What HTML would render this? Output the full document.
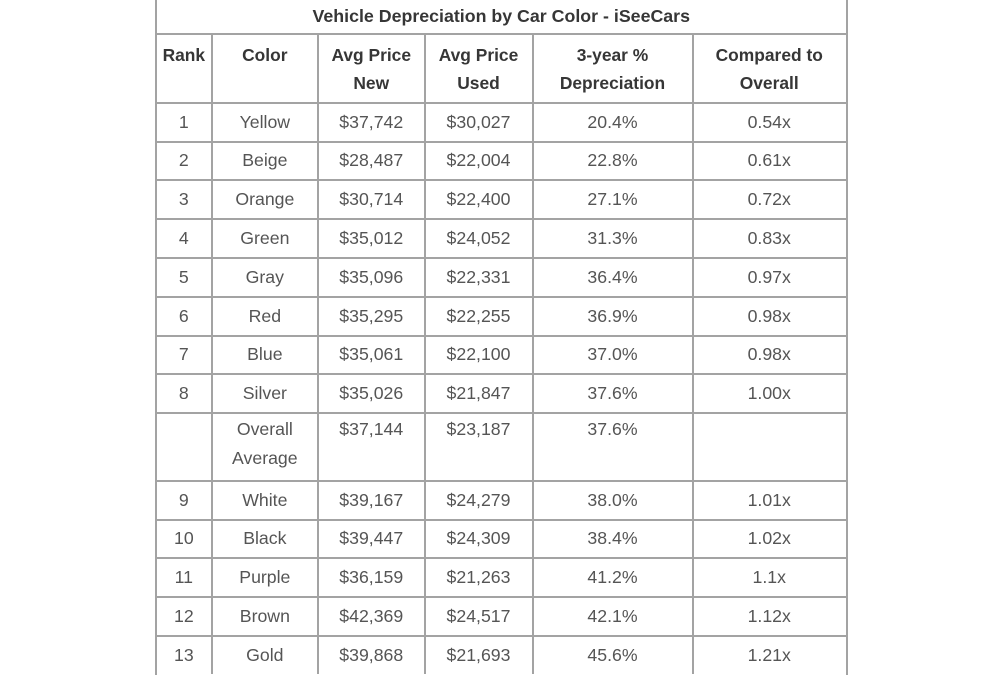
<!DOCTYPE html>
<html>
<head>
<meta charset="utf-8">
<style>
html,body{margin:0;padding:0;background:#fff;}
body{width:1000px;height:667px;position:relative;overflow:hidden;font-family:"Liberation Sans",sans-serif;}
.v{position:absolute;width:2px;background:#a3a3a3;}
.h{position:absolute;height:2px;background:#a3a3a3;left:155px;width:692.5px;}
.r{position:absolute;left:156px;display:flex;height:29px;line-height:29px;font-size:17.7px;color:#555;}
.r div{text-align:center;white-space:nowrap;}
.w1{width:55.7px}.w2{width:106.3px}.w3{width:106.5px}.w4{width:108px}.w5{width:160px}.w6{width:153.5px}
.hd{font-weight:bold;color:#363636;font-size:17.4px;line-height:28.5px;height:57px;}
.title{position:absolute;left:156px;width:690.5px;top:2px;line-height:28px;text-align:center;font-weight:bold;font-size:17.8px;color:#363636;}
</style>
</head>
<body>
<!-- vertical lines -->
<div class="v" style="left:155px;top:-5px;height:680px"></div>
<div class="v" style="left:210.7px;top:34px;height:640px"></div>
<div class="v" style="left:317px;top:34px;height:640px"></div>
<div class="v" style="left:424px;top:34px;height:640px"></div>
<div class="v" style="left:532px;top:34px;height:640px"></div>
<div class="v" style="left:692px;top:34px;height:640px"></div>
<div class="v" style="left:845.5px;top:-5px;height:680px"></div>
<!-- horizontal lines -->
<div class="h" style="top:33px"></div>
<div class="h" style="top:101.7px"></div>
<div class="h" style="top:140.5px"></div>
<div class="h" style="top:179.3px"></div>
<div class="h" style="top:218.1px"></div>
<div class="h" style="top:256.9px"></div>
<div class="h" style="top:295.7px"></div>
<div class="h" style="top:334.5px"></div>
<div class="h" style="top:373.3px"></div>
<div class="h" style="top:412.3px"></div>
<div class="h" style="top:479.7px"></div>
<div class="h" style="top:518.5px"></div>
<div class="h" style="top:557.3px"></div>
<div class="h" style="top:596.1px"></div>
<div class="h" style="top:635px"></div>

<div class="title">Vehicle Depreciation by Car Color - iSeeCars</div>

<div class="r hd" style="top:40.5px">
<div class="w1">Rank</div><div class="w2">Color</div><div class="w3">Avg Price<br>New</div><div class="w4">Avg Price<br>Used</div><div class="w5">3-year %<br>Depreciation</div><div class="w6">Compared to<br>Overall</div>
</div>

<div class="r" style="top:107.6px"><div class="w1">1</div><div class="w2">Yellow</div><div class="w3">$37,742</div><div class="w4">$30,027</div><div class="w5">20.4%</div><div class="w6">0.54x</div></div>
<div class="r" style="top:146.4px"><div class="w1">2</div><div class="w2">Beige</div><div class="w3">$28,487</div><div class="w4">$22,004</div><div class="w5">22.8%</div><div class="w6">0.61x</div></div>
<div class="r" style="top:185.2px"><div class="w1">3</div><div class="w2">Orange</div><div class="w3">$30,714</div><div class="w4">$22,400</div><div class="w5">27.1%</div><div class="w6">0.72x</div></div>
<div class="r" style="top:224px"><div class="w1">4</div><div class="w2">Green</div><div class="w3">$35,012</div><div class="w4">$24,052</div><div class="w5">31.3%</div><div class="w6">0.83x</div></div>
<div class="r" style="top:262.8px"><div class="w1">5</div><div class="w2">Gray</div><div class="w3">$35,096</div><div class="w4">$22,331</div><div class="w5">36.4%</div><div class="w6">0.97x</div></div>
<div class="r" style="top:301.6px"><div class="w1">6</div><div class="w2">Red</div><div class="w3">$35,295</div><div class="w4">$22,255</div><div class="w5">36.9%</div><div class="w6">0.98x</div></div>
<div class="r" style="top:340.4px"><div class="w1">7</div><div class="w2">Blue</div><div class="w3">$35,061</div><div class="w4">$22,100</div><div class="w5">37.0%</div><div class="w6">0.98x</div></div>
<div class="r" style="top:379.3px"><div class="w1">8</div><div class="w2">Silver</div><div class="w3">$35,026</div><div class="w4">$21,847</div><div class="w5">37.6%</div><div class="w6">1.00x</div></div>
<div class="r" style="top:414.5px"><div class="w1"></div><div class="w2">Overall</div><div class="w3">$37,144</div><div class="w4">$23,187</div><div class="w5">37.6%</div><div class="w6"></div></div>
<div class="r" style="top:443.5px"><div class="w1"></div><div class="w2">Average</div><div class="w3"></div><div class="w4"></div><div class="w5"></div><div class="w6"></div></div>
<div class="r" style="top:485.6px"><div class="w1">9</div><div class="w2">White</div><div class="w3">$39,167</div><div class="w4">$24,279</div><div class="w5">38.0%</div><div class="w6">1.01x</div></div>
<div class="r" style="top:524.4px"><div class="w1">10</div><div class="w2">Black</div><div class="w3">$39,447</div><div class="w4">$24,309</div><div class="w5">38.4%</div><div class="w6">1.02x</div></div>
<div class="r" style="top:563.2px"><div class="w1">11</div><div class="w2">Purple</div><div class="w3">$36,159</div><div class="w4">$21,263</div><div class="w5">41.2%</div><div class="w6">1.1x</div></div>
<div class="r" style="top:602.1px"><div class="w1">12</div><div class="w2">Brown</div><div class="w3">$42,369</div><div class="w4">$24,517</div><div class="w5">42.1%</div><div class="w6">1.12x</div></div>
<div class="r" style="top:640.9px"><div class="w1">13</div><div class="w2">Gold</div><div class="w3">$39,868</div><div class="w4">$21,693</div><div class="w5">45.6%</div><div class="w6">1.21x</div></div>
</body>
</html>
